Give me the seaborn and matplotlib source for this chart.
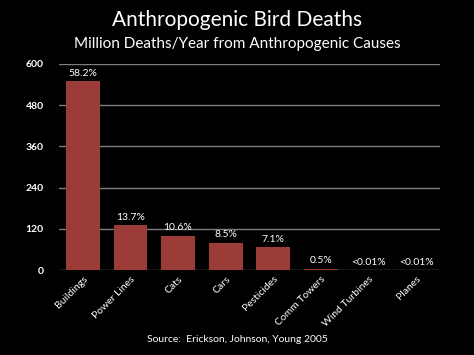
import pandas as pd
import seaborn as sns
import matplotlib.pyplot as plt

# data (million deaths / year)
causes = ['Buildings', 'Power Lines', 'Cats', 'Cars', 'Pesticides',
          'Comm Towers', 'Wind Turbines', 'Planes']
deaths = [550, 130, 100, 80, 67, 4.5, 0.03, 0.03]
shares = ['58.2%', '13.7%', '10.6%', '8.5%', '7.1%', '0.5%', '<0.01%', '<0.01%']
yticks = [0, 120, 240, 360, 480, 600]

df = pd.DataFrame({'cause': causes, 'deaths': deaths, 'share': shares})

sns.set_style('dark')
plt.rcParams['font.family'] = ['Lato', 'DejaVu Sans']

fig = plt.figure(figsize=(4.74, 3.55), dpi=100, facecolor='black')
ax = fig.add_axes([0.1245, 0.239, 0.8035, 0.581])
ax.set_facecolor('black')

sns.barplot(x='cause', y='deaths', data=df, color='#9b3c37', saturation=1,
            width=0.71, edgecolor='none', linewidth=0, ax=ax, zorder=3)

# labels above the bars
for i, (v, s) in enumerate(zip(df['deaths'], df['share'])):
    ax.text(i, v + 10, s, ha='center', va='bottom', fontsize=7.5, color='white')

ax.set_ylim(0, 600)
ax.set_xlim(-0.5, len(causes) - 0.5)
ax.set_yticks(yticks)
ax.set_yticklabels([str(t) for t in yticks], fontsize=7.5, color='white',
                   fontweight='bold')
ax.yaxis.grid(True, color='#7d7d7d', linewidth=1, zorder=0)
ax.xaxis.grid(False)
ax.tick_params(axis='y', length=5, color='#7d7d7d', width=1, pad=6)
ax.tick_params(axis='x', length=0, pad=3)
for sp in ax.spines.values():
    sp.set_visible(False)
plt.setp(ax.get_xticklabels(), rotation=45, ha='right', rotation_mode='anchor',
         fontsize=7.5, color='white')
ax.set_xlabel('')
ax.set_ylabel('')

fig.text(0.5, 0.945, 'Anthropogenic Bird Deaths', ha='center', va='center',
         fontsize=15, color='white')
fig.text(0.5, 0.875, 'Million Deaths/Year from Anthropogenic Causes', ha='center',
         va='center', fontsize=11, color='white')
fig.text(0.5, 0.045, 'Source:  Erickson, Johnson, Young 2005', ha='center',
         va='center', fontsize=7.5, color='white')

fig.savefig('out.png', dpi=100, facecolor='black')
